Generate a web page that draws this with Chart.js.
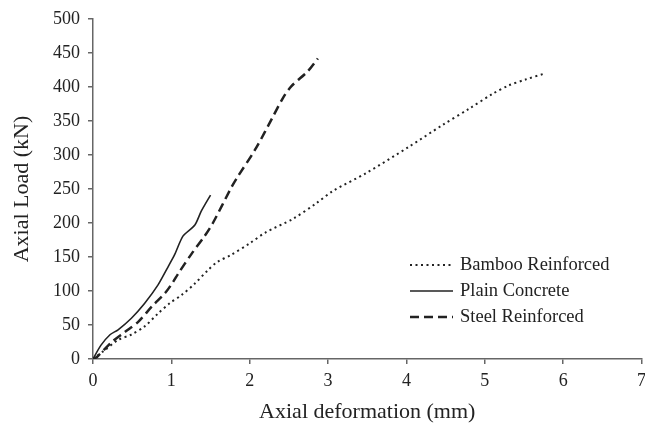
<!DOCTYPE html>
<html>
<head>
<meta charset="utf-8">
<script src="https://cdn.jsdelivr.net/npm/chart.js@4.4.1/dist/chart.umd.min.js"></script>
<style>
    html, body { margin: 0; padding: 0; overflow: hidden; background: #fff; }
</style>
</head>
<body>
<canvas id="chart" width="652" height="425"></canvas>
<script>
// ---- data ----
const bambooX = [0, 0.15, 0.32, 0.49, 0.66, 0.83, 0.98, 1.13, 1.30, 1.47, 1.59, 1.76, 2.0, 2.2, 2.55, 2.85, 3.06, 3.48, 4.03, 4.46, 4.80, 5.10, 5.30, 5.52, 5.77];
const bambooY = [0, 13, 28, 36, 48, 67, 82, 94, 111, 131, 143, 153, 170, 186, 206, 229, 247, 273, 312, 344, 368, 390, 402, 411, 420];

const plainX = [0, 0.1, 0.22, 0.32, 0.49, 0.66, 0.83, 0.96, 1.04, 1.15, 1.30, 1.38, 1.50];
const plainY = [0, 20, 36, 43, 60, 82, 109, 136, 153, 181, 197, 217, 241];

const steelX = [0, 0.05, 0.24, 0.41, 0.58, 0.75, 0.92, 1.02, 1.09, 1.26, 1.42, 1.53, 1.76, 1.83, 2.08, 2.29, 2.42, 2.53, 2.74, 2.87];
const steelY = [0, 3, 25, 40, 55, 77, 97, 113, 126, 155, 180, 200, 251, 265, 310, 355, 383, 401, 423, 442];

const seriesNames = ['Bamboo Reinforced', 'Plain Concrete', 'Steel Reinforced'];
const xTitle = 'Axial deformation (mm)';
const yTitle = 'Axial Load (kN)';

const toPoints = (xs, ys) => xs.map((x, i) => ({ x: x, y: ys[i] }));

const SERIF = '"Liberation Serif", "Times New Roman", serif';
const INK = '#222';
const AXIS = '#666';

// legend drawn inside the plot, like the figure
const legendBox = {
    id: 'legendBox',
    afterDraw(chart) {
        const ctx = chart.ctx;
        ctx.save();
        ctx.font = '18.5px ' + SERIF;
        ctx.textBaseline = 'middle';
        chart.data.datasets.forEach((ds, i) => {
            const y = 265 + i * 26;
            ctx.beginPath();
            ctx.setLineDash(ds.borderDash || []);
            ctx.lineWidth = ds.borderWidth;
            ctx.strokeStyle = ds.borderColor;
            ctx.moveTo(410, y);
            ctx.lineTo(453, y);
            ctx.stroke();
            ctx.setLineDash([]);
            ctx.fillStyle = INK;
            ctx.fillText(ds.label, 460, y);
        });
        ctx.restore();
    }
};

new Chart(document.getElementById('chart'), {
    type: 'line',
    data: {
        datasets: [
            {
                label: seriesNames[0],
                data: toPoints(bambooX, bambooY),
                borderColor: '#222',
                borderWidth: 2,
                borderDash: [2, 3.5],
                pointRadius: 0,
                tension: 0.3
            },
            {
                label: seriesNames[1],
                data: toPoints(plainX, plainY),
                borderColor: '#222',
                borderWidth: 1.6,
                pointRadius: 0,
                tension: 0.25
            },
            {
                label: seriesNames[2],
                data: toPoints(steelX, steelY),
                borderColor: '#222',
                borderWidth: 2.5,
                borderDash: [9, 5],
                pointRadius: 0,
                tension: 0.3
            }
        ]
    },
    options: {
        responsive: false,
        animation: false,
        layout: { padding: { top: 19, right: 8.5, bottom: 0, left: 0 } },
        plugins: {
            legend: { display: false },
            tooltip: { enabled: false }
        },
        scales: {
            x: {
                type: 'linear',
                min: 0,
                max: 7,
                ticks: { stepSize: 1, color: INK, padding: 6, font: { family: SERIF, size: 18 } },
                grid: { drawOnChartArea: false, drawTicks: true, tickLength: 5, color: AXIS, lineWidth: 1.5 },
                border: { color: AXIS, width: 1.5 },
                title: { display: true, text: xTitle, color: INK, padding: { top: 0, bottom: 0 }, font: { family: SERIF, size: 22 } },
                afterFit: (s) => { s.height = 66; }
            },
            y: {
                min: 0,
                max: 500,
                ticks: { stepSize: 50, color: INK, padding: 8, font: { family: SERIF, size: 18 } },
                grid: { drawOnChartArea: false, drawTicks: true, tickLength: 5, color: AXIS, lineWidth: 1.5 },
                border: { color: AXIS, width: 1.5 },
                title: { display: true, text: yTitle, color: INK, padding: { top: 9, bottom: 0 }, font: { family: SERIF, size: 22 } },
                afterFit: (s) => { s.width = 93; }
            }
        }
    },
    plugins: [legendBox]
});
</script>
</body>
</html>
